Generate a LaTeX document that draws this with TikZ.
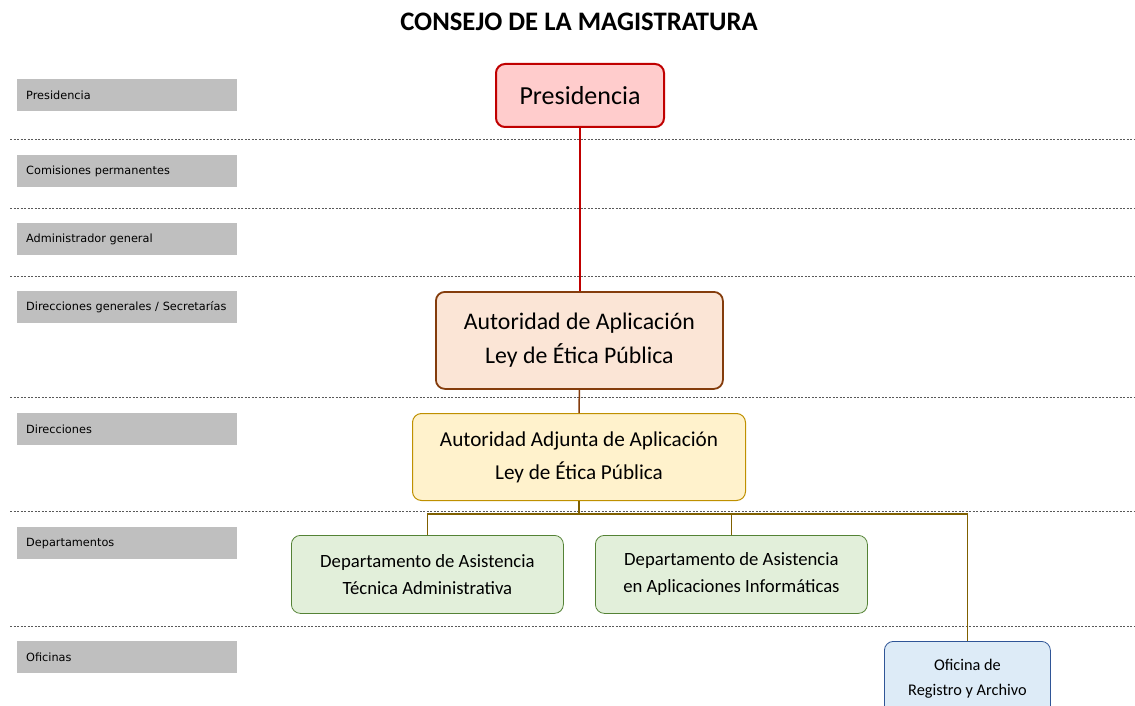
\documentclass[tikz,border=0pt]{standalone}
\usepackage{fontspec}
\setmainfont{Carlito}
\newfontfamily\lblfont{DejaVu Sans}
\definecolor{lvlgray}{HTML}{BFBFBF}
\definecolor{dashgray}{HTML}{595959}
\definecolor{presfill}{HTML}{FFCCCC}
\definecolor{presdraw}{HTML}{C00000}
\definecolor{autfill}{HTML}{FBE5D6}
\definecolor{autdraw}{HTML}{843C0C}
\definecolor{adjfill}{HTML}{FFF2CC}
\definecolor{adjdraw}{HTML}{BF9000}
\definecolor{conn}{HTML}{7F6000}
\definecolor{depfill}{HTML}{E2EFDA}
\definecolor{depdraw}{HTML}{548235}
\definecolor{ofifill}{HTML}{DDEBF7}
\definecolor{ofidraw}{HTML}{2F5597}
\tikzset{
  lvl/.style={fill=lvlgray, minimum width=220pt, minimum height=32pt, inner sep=0pt, anchor=north west, font=\lblfont\fontsize{11.3}{13}\selectfont, text width=216pt, align=left},
  sep/.style={dashgray, dash pattern=on 2pt off 1.5pt, line width=0.7pt},
  orgbox/.style={rounded corners=9pt, align=center, inner sep=0pt, anchor=north west},
}
\begin{document}
\begin{tikzpicture}[x=1pt,y=-1pt]
\useasboundingbox (0,0) rectangle (1135,706);
\begin{scope}
\clip (0,0) rectangle (1135,706);
% title
\node[font=\bfseries\fontsize{26.7}{30}\selectfont] (title) at (579,22) {CONSEJO DE LA MAGISTRATURA};
% level labels
\node[lvl] (l1) at (17,79) {\hspace*{7pt}Presidencia};
\node[lvl] (l2) at (17,155) {\hspace*{7pt}Comisiones permanentes};
\node[lvl] (l3) at (17,223) {\hspace*{7pt}Administrador general};
\node[lvl] (l4) at (17,291) {\hspace*{7pt}Direcciones generales / Secretarías};
\node[lvl] (l5) at (17,413) {\hspace*{7pt}Direcciones};
\node[lvl] (l6) at (17,527) {\hspace*{7pt}Departamentos};
\node[lvl] (l7) at (17,641) {\hspace*{7pt}Oficinas};
% separators
\foreach \yy in {139,208,276,397,511,626} \draw[sep] (10,\yy) -- (1135,\yy);
% boxes
\node[orgbox, fill=presfill, draw=presdraw, line width=2pt, minimum width=168pt, minimum height=63pt, font=\fontsize{26}{30}\selectfont] (pres) at (495,63) {Presidencia};
\node[orgbox, fill=autfill, draw=autdraw, line width=1.8pt, minimum width=287pt, minimum height=97pt, font=\fontsize{23.8}{34}\selectfont] (aut) at (435,291) {Autoridad de Aplicación\\Ley de Ética Pública};
\node[orgbox, fill=adjfill, draw=adjdraw, line width=1pt, minimum width=333pt, minimum height=87pt, font=\fontsize{21.2}{33}\selectfont] (adj) at (412,413) {Autoridad Adjunta de Aplicación\\Ley de Ética Pública};
\node[orgbox, fill=depfill, draw=depdraw, line width=0.8pt, minimum width=272pt, minimum height=78pt, font=\fontsize{18.7}{27}\selectfont] (d1) at (291,535) {Departamento de Asistencia\\Técnica Administrativa};
\node[orgbox, fill=depfill, draw=depdraw, line width=0.8pt, minimum width=272pt, minimum height=78pt, font=\fontsize{18.7}{27}\selectfont] (d2) at (595,535) {Departamento de Asistencia\\en Aplicaciones Informáticas};
\node[orgbox, fill=ofifill, draw=ofidraw, line width=0.8pt, minimum width=166pt, minimum height=74pt, font=\fontsize{16.3}{25}\selectfont] (ofi) at (884,641) {Oficina de\\Registro y Archivo};
% connectors
\draw[presdraw, line width=2pt] (pres.south) -- (pres.south |- aut.north);
\draw[autdraw, line width=1.5pt] (aut.south) -- (adj.north);
\coordinate (bus) at (579,514);
\draw[conn, line width=1.2pt] (adj.south) -- (bus);
\draw[conn, line width=1.2pt] (bus) -| (d1.north);
\draw[conn, line width=1.2pt] (bus) -| (d2.north);
\draw[conn, line width=1.2pt] (bus) -| (ofi.north);
\end{scope}
\end{tikzpicture}
\end{document}
